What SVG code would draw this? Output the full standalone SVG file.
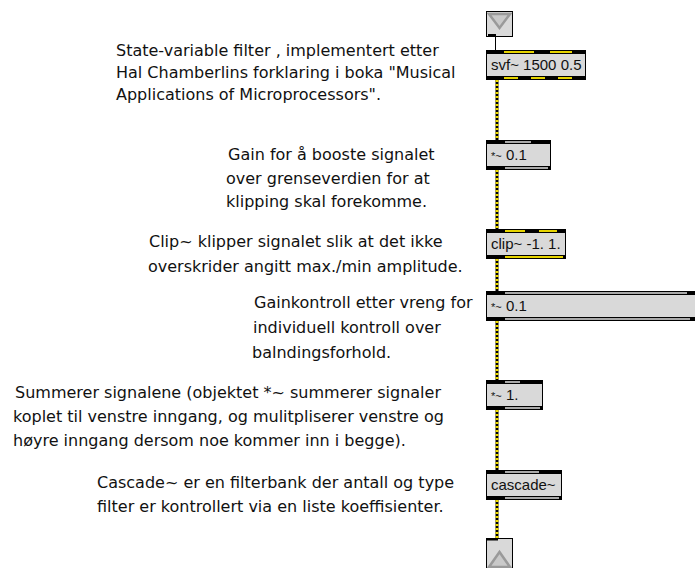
<svg xmlns="http://www.w3.org/2000/svg" width="695" height="568" viewBox="0 0 695 568">
<style>
.bg{fill:#ffffff}
.box{fill:#d9d9d9;stroke:#000;stroke-width:1}
.bar{fill:#000}
.ys{fill:#e6d400}
.gs{fill:#a9a9a9}
.t{font-family:"DejaVu Sans","Liberation Sans",sans-serif;font-size:16px;fill:#111}
.bt{font-family:"Liberation Sans",Arial,sans-serif;font-size:15px;fill:#111}
.sm{font-size:11px}
.cb{stroke:#000;stroke-width:3;fill:none}
.cy{stroke:#f0dc00;stroke-width:3;stroke-dasharray:2 2;fill:none}
.tri{fill:#c9c9c9;stroke:#9a9a9a;stroke-width:2.5;stroke-linejoin:miter}
</style>
<rect class="bg" x="0" y="0" width="695" height="568"/>

<g id="connectors">
  <line x1="495.5" y1="37" x2="495.5" y2="50" stroke="#000" stroke-width="1"/>
  <line class="cb" x1="497" y1="80" x2="497" y2="140"/><line class="cy" x1="497" y1="80" x2="497" y2="140"/>
  <line class="cb" x1="497" y1="170" x2="497" y2="229"/><line class="cy" x1="497" y1="170" x2="497" y2="229"/>
  <line class="cb" x1="497" y1="259" x2="497" y2="291"/><line class="cy" x1="497" y1="259" x2="497" y2="291"/>
  <line class="cb" x1="497" y1="321" x2="497" y2="380"/><line class="cy" x1="497" y1="321" x2="497" y2="380"/>
  <line class="cb" x1="497" y1="410" x2="497" y2="470"/><line class="cy" x1="497" y1="410" x2="497" y2="470"/>
  <line class="cb" x1="497" y1="500" x2="497" y2="538"/><line class="cy" x1="497" y1="500" x2="497" y2="538"/>
</g>

<g id="inlet">
  <rect class="box" x="486.5" y="11.5" width="26" height="25"/>
  <polygon class="tri" points="489,14 510,14 499.5,28"/>
  <line x1="488" y1="35" x2="496" y2="35" stroke="#000" stroke-width="2"/>
</g>

<g id="svf">
  <rect class="box" x="486.5" y="50.5" width="99" height="29"/>
  <rect class="bar" x="486" y="50" width="100" height="4"/>
  <rect class="bar" x="486" y="76" width="100" height="4"/>
  <rect class="ys" x="504" y="51" width="30" height="2"/>
  <rect class="ys" x="550" y="51" width="22" height="2"/>
  <rect class="ys" x="504" y="77" width="14" height="2"/>
  <rect class="ys" x="531" y="77" width="14" height="2"/>
  <rect class="ys" x="558" y="77" width="14" height="2"/>
  <text class="bt" x="491" y="70">svf~ 1500 0.5</text>
</g>

<g id="mul1">
  <rect class="box" x="486.5" y="140.5" width="64" height="29"/>
  <rect class="bar" x="486" y="140" width="65" height="4"/>
  <rect class="bar" x="486" y="166" width="65" height="4"/>
  <rect class="gs" x="505" y="141" width="26" height="2"/>
  <rect class="gs" x="505" y="167" width="43" height="2"/>
  <text class="bt" x="491" y="160"><tspan class="sm">*~</tspan> 0.1</text>
</g>

<g id="clip">
  <rect class="box" x="486.5" y="229.5" width="79" height="29"/>
  <rect class="bar" x="486" y="229" width="80" height="4"/>
  <rect class="bar" x="486" y="255" width="80" height="4"/>
  <rect class="ys" x="505" y="230" width="20" height="2"/>
  <rect class="ys" x="539" y="230" width="18" height="2"/>
  <rect class="ys" x="505" y="256" width="58" height="2"/>
  <text class="bt" x="491" y="249">clip~ -1. 1.</text>
</g>

<g id="mul2">
  <rect class="box" x="486.5" y="291.5" width="220" height="29"/>
  <rect class="bar" x="486" y="291" width="220" height="4"/>
  <rect class="bar" x="486" y="317" width="220" height="4"/>
  <rect class="gs" x="505" y="292" width="182" height="2"/>
  <rect class="gs" x="505" y="318" width="185" height="2"/>
  <text class="bt" x="491" y="311"><tspan class="sm">*~</tspan> 0.1</text>
</g>

<g id="mul3">
  <rect class="box" x="486.5" y="380.5" width="56" height="29"/>
  <rect class="bar" x="486" y="380" width="57" height="4"/>
  <rect class="bar" x="486" y="406" width="57" height="4"/>
  <rect class="gs" x="505" y="381" width="15" height="2"/>
  <rect class="gs" x="505" y="407" width="35" height="2"/>
  <text class="bt" x="491" y="400"><tspan class="sm">*~</tspan> 1.</text>
</g>

<g id="cascade">
  <rect class="box" x="486.5" y="470.5" width="75" height="29"/>
  <rect class="bar" x="486" y="470" width="76" height="4"/>
  <rect class="bar" x="486" y="496" width="76" height="4"/>
  <rect class="gs" x="505" y="471" width="34" height="2"/>
  <rect class="gs" x="505" y="497" width="54" height="2"/>
  <text class="bt" x="491" y="490">cascade~</text>
</g>

<g id="outlet">
  <rect class="box" x="486.5" y="538.5" width="26" height="34"/>
  <line x1="487" y1="539.5" x2="498" y2="539.5" stroke="#000" stroke-width="2"/>
  <polygon class="tri" points="489,567 499.5,552 510,567"/>
</g>

<g id="comments">
  <text class="t" x="116" y="56">State-variable filter , implementert etter</text>
  <text class="t" x="116" y="78">Hal Chamberlins forklaring i boka "Musical</text>
  <text class="t" x="116" y="100">Applications of Microprocessors".</text>

  <text class="t" x="228" y="160">Gain for å booste signalet</text>
  <text class="t" x="226" y="184">over grenseverdien for at</text>
  <text class="t" x="226" y="207">klipping skal forekomme.</text>

  <text class="t" x="149" y="247">Clip~ klipper signalet slik at det ikke</text>
  <text class="t" x="148" y="272">overskrider angitt max./min amplitude.</text>

  <text class="t" x="254" y="308">Gainkontroll etter vreng for</text>
  <text class="t" x="253" y="333">individuell kontroll over</text>
  <text class="t" x="252" y="358">balndingsforhold.</text>

  <text class="t" x="15" y="398">Summerer signalene (objektet *~ summerer signaler</text>
  <text class="t" x="13" y="422">koplet til venstre inngang, og mulitpliserer venstre og</text>
  <text class="t" x="13" y="446">høyre inngang dersom noe kommer inn i begge).</text>

  <text class="t" x="97" y="488">Cascade~ er en filterbank der antall og type</text>
  <text class="t" x="97" y="512">filter er kontrollert via en liste koeffisienter.</text>
</g>
</svg>
